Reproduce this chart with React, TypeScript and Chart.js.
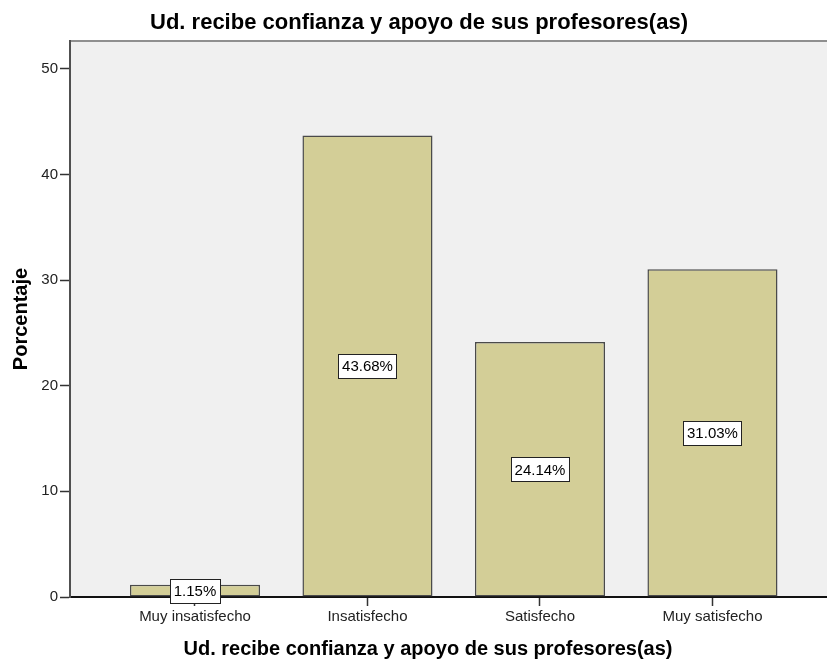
import { useEffect, useRef } from 'react';
import { Chart, registerables } from 'chart.js';

Chart.register(...registerables);

const categories = ['Muy insatisfecho', 'Insatisfecho', 'Satisfecho', 'Muy satisfecho'];
const percentValues = [1.15, 43.68, 24.14, 31.03];
const yTickValues = [0, 10, 20, 30, 40, 50];
const chartTitle = 'Ud. recibe confianza y apoyo de sus profesores(as)';
const xAxisTitle = 'Ud. recibe confianza y apoyo de sus profesores(as)';
const yAxisTitle = 'Porcentaje';

const FAMILY = '"Liberation Sans", Arial, sans-serif';

const decorPlugin = {
  id: 'decor',
  beforeDraw(chart: any) {
    const { ctx, chartArea: a } = chart;
    ctx.save();
    ctx.fillStyle = '#f0f0f0';
    ctx.fillRect(a.left, a.top, a.right - a.left, a.bottom - a.top);
    ctx.strokeStyle = '#8f8f8f';
    ctx.lineWidth = 2;
    ctx.beginPath();
    ctx.moveTo(a.left, a.top);
    ctx.lineTo(a.right, a.top);
    ctx.stroke();
    ctx.restore();
  },
  afterDatasetsDraw(chart: any) {
    const { ctx } = chart;
    const meta = chart.getDatasetMeta(0);
    const yScale = chart.scales.y;
    ctx.save();
    ctx.font = `15px ${FAMILY}`;
    meta.data.forEach((bar: any, i: number) => {
      const v = percentValues[i];
      const text = v.toFixed(2) + '%';
      const cy = yScale.getPixelForValue(v / 2);
      const w = Math.round(ctx.measureText(text).width + 7);
      const h = 24;
      const x0 = Math.round(bar.x - w / 2) + 0.5;
      const y0 = Math.round(cy - h / 2) + 0.5;
      ctx.fillStyle = '#ffffff';
      ctx.fillRect(x0, y0, w, h);
      ctx.strokeStyle = '#222222';
      ctx.lineWidth = 1;
      ctx.strokeRect(x0, y0, w, h);
      ctx.fillStyle = '#000000';
      ctx.textAlign = 'center';
      ctx.textBaseline = 'middle';
      ctx.fillText(text, bar.x, cy + 1);
    });
    ctx.restore();
  },
  afterDraw(chart: any) {
    const { ctx, chartArea: a } = chart;
    ctx.save();
    ctx.font = `bold 20px ${FAMILY}`;
    ctx.fillStyle = '#000000';
    ctx.textAlign = 'center';
    ctx.textBaseline = 'middle';
    ctx.fillText(xAxisTitle, (a.left + a.right) / 2 - 20.5, a.bottom + 52);
    ctx.restore();
  },
};

export default function App() {
  const canvasRef = useRef<HTMLCanvasElement | null>(null);

  useEffect(() => {
    const canvas = canvasRef.current;
    if (!canvas) return;
    const chart = new Chart(canvas, {
      type: 'bar',
      data: {
        datasets: [
          {
            data: percentValues.map((v, i) => ({ x: i, y: v })),
            backgroundColor: '#d3ce97',
            borderColor: '#4a4a4a',
            borderWidth: 1.5,
            borderSkipped: false,
            barPercentage: 1,
            categoryPercentage: 0.754,
          } as any,
        ],
      },
      options: {
        animation: false,
        responsive: false,
        devicePixelRatio: 1,
        layout: { padding: { left: 11, right: 0, top: 0, bottom: 0 } },
        plugins: {
          legend: { display: false },
          tooltip: { enabled: false },
          title: {
            display: true,
            text: chartTitle,
            color: '#000000',
            font: { size: 22, weight: 'bold', family: FAMILY, lineHeight: 1 },
            padding: { top: 12, bottom: 7 },
          },
        },
        scales: {
          x: {
            type: 'linear',
            offset: false,
            min: -0.7246,
            max: 3.664,
            afterBuildTicks: (s: any) => {
              s.ticks = categories.map((_, i) => ({ value: i }));
            },
            afterFit: (s: any) => {
              s.height = 64;
            },
            ticks: {
              callback: (v: any) => categories[v] ?? '',
              font: { size: 15, family: FAMILY },
              color: '#222222',
              padding: 2,
              maxRotation: 0,
              autoSkip: false,
            },
            grid: { offset: false, drawOnChartArea: false, drawTicks: true, tickLength: 9, tickColor: '#333333', tickWidth: 1.5 },
            border: { display: true, color: '#111111', width: 2 },
          },
          y: {
            min: 0,
            max: 52.63,
            afterBuildTicks: (s: any) => {
              s.ticks = yTickValues.map((v) => ({ value: v }));
            },
            afterFit: (s: any) => {
              s.width = 59;
            },
            ticks: {
              font: { size: 15, family: FAMILY },
              color: '#222222',
              padding: 2,
            },
            grid: { drawOnChartArea: false, drawTicks: true, tickLength: 10, tickColor: '#333333', tickWidth: 1.5 },
            border: { display: true, color: '#505050', width: 2 },
            title: {
              display: true,
              text: yAxisTitle,
              color: '#000000',
              font: { size: 20, weight: 'bold', family: FAMILY, lineHeight: 1 },
              padding: 0,
            },
          },
        },
      } as any,
      plugins: [decorPlugin],
    });
    return () => chart.destroy();
  }, []);

  return (
    <div style={{ position: 'fixed', left: 0, top: 0, width: 827, height: 661, background: '#ffffff' }}>
      <canvas ref={canvasRef} width={827} height={661} style={{ display: 'block', width: 827, height: 661 }} />
    </div>
  );
}
